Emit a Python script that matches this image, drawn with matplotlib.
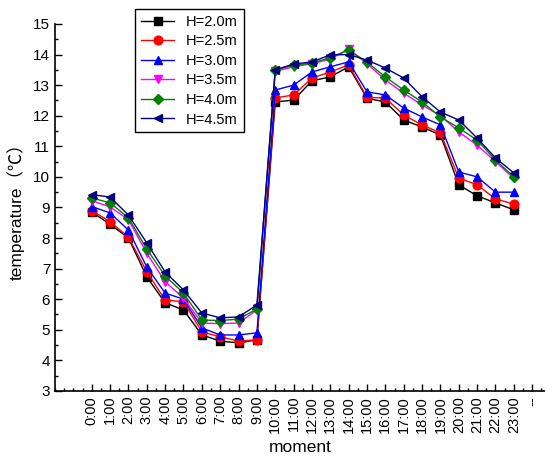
import matplotlib.pyplot as plt
from matplotlib.ticker import MultipleLocator

plt.rcParams['font.family'] = ['Liberation Sans', 'Noto Sans CJK SC', 'DejaVu Sans']

# hourly moments, the last category is an empty placeholder "--"
moments = [f'{h}:00' for h in range(24)] + ['--']

h20 = [8.85, 8.45, 8.00, 6.73, 5.88, 5.65, 4.83, 4.63, 4.57, 4.67, 12.45, 12.51,
       13.14, 13.27, 13.60, 12.57, 12.45, 11.86, 11.63, 11.37, 9.74, 9.38, 9.15, 8.92]
h25 = [8.90, 8.53, 8.03, 6.90, 5.97, 5.92, 4.93, 4.77, 4.63, 4.67, 12.58, 12.68,
       13.23, 13.43, 13.66, 12.60, 12.58, 12.02, 11.70, 11.44, 9.96, 9.74, 9.28, 9.11]
h30 = [9.03, 8.82, 8.26, 7.05, 6.20, 6.00, 5.06, 4.83, 4.83, 4.90, 12.84, 13.00,
       13.43, 13.60, 13.76, 12.78, 12.68, 12.25, 11.96, 11.70, 10.16, 10.00, 9.50, 9.50]
h35 = [9.22, 9.02, 8.60, 7.50, 6.57, 6.04, 5.22, 5.20, 5.22, 5.65, 13.45, 13.60,
       13.70, 13.85, 14.18, 13.70, 13.17, 12.74, 12.35, 12.00, 11.47, 11.04, 10.50, 9.95]
h40 = [9.31, 9.15, 8.66, 7.64, 6.76, 6.20, 5.32, 5.30, 5.35, 5.68, 13.50, 13.65,
       13.72, 13.90, 14.15, 13.75, 13.27, 12.84, 12.45, 11.96, 11.60, 11.20, 10.55, 10.00]
h45 = [9.42, 9.34, 8.75, 7.84, 6.89, 6.30, 5.55, 5.39, 5.42, 5.81, 13.50, 13.69,
       13.76, 13.99, 14.00, 13.82, 13.56, 13.23, 12.62, 12.12, 11.86, 11.27, 10.62, 10.13]

series = [('H=2.0m', h20, 'black', 's'),
          ('H=2.5m', h25, 'red', 'o'),
          ('H=3.0m', h30, 'blue', '^'),
          ('H=3.5m', h35, 'magenta', 'v'),
          ('H=4.0m', h40, 'green', 'D'),
          ('H=4.5m', h45, 'navy', '<')]

fig = plt.figure(figsize=(5.45, 4.61), dpi=100)
ax = fig.add_axes([0.101, 0.152, 0.899, 0.796])

x = list(range(24))
for label, vals, color, marker in series:
    ms = 5 if marker == 'D' else 6.3
    ax.plot(x, vals, color=color, marker=marker, markersize=ms, linewidth=1,
            markeredgecolor=color, label=label)

ax.set_xlim(-2, 24.7)
ax.set_ylim(3, 15)
ax.set_xticks(range(len(moments)))
ax.set_xticklabels(moments, rotation=90)
ax.xaxis.set_minor_locator(MultipleLocator(0.5))
ax.yaxis.set_major_locator(MultipleLocator(1))
ax.yaxis.set_minor_locator(MultipleLocator(0.5))
ax.tick_params(which='both', direction='in', width=1)
ax.tick_params(which='major', length=5)
ax.tick_params(which='minor', length=2.5)
ax.tick_params(axis='y', labelsize=11)
ax.tick_params(axis='x', labelsize=10.5)

for s in ['top', 'right']:
    ax.spines[s].set_visible(False)
for s in ['left', 'bottom']:
    ax.spines[s].set_linewidth(1.2)

ax.set_xlabel('moment', fontsize=12.5, labelpad=5)
ax.set_ylabel('temperature（℃）', fontsize=12.5, labelpad=6)

leg = ax.legend(loc='upper left', bbox_to_anchor=(135 / 545, 1 - 9 / 461),
                bbox_transform=fig.transFigure, fontsize=10.5, fancybox=False,
                edgecolor='black', framealpha=1, handlelength=2.3,
                borderpad=0.4, labelspacing=0.38, borderaxespad=0)
leg.get_frame().set_linewidth(1)

fig.savefig('out.png', dpi=100)
